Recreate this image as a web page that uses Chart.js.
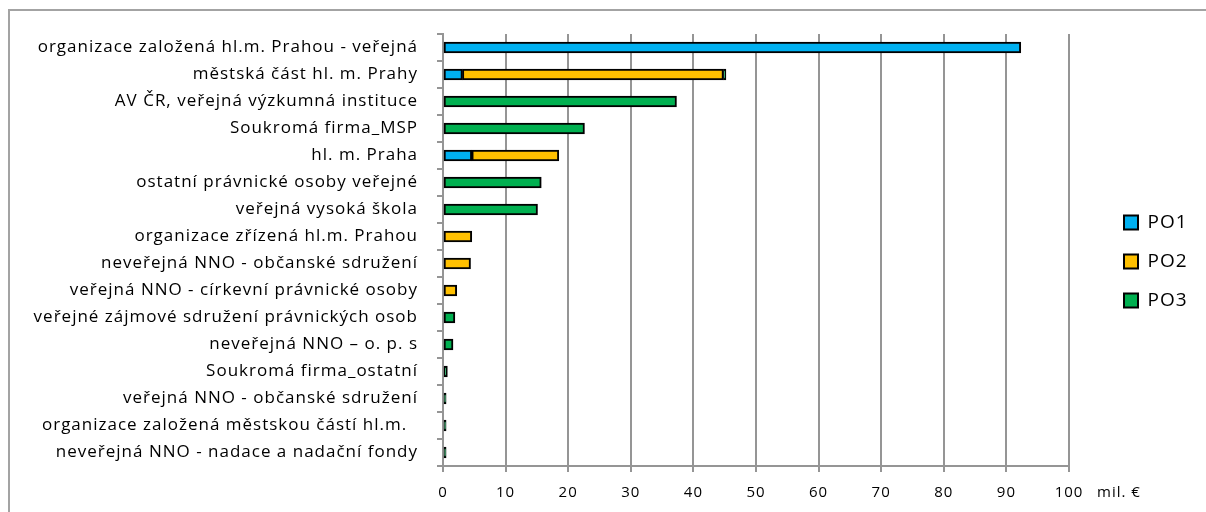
<!DOCTYPE html>
<html>
<head>
<meta charset="utf-8">
<script src="https://cdn.jsdelivr.net/npm/chart.js@4.4.1/dist/chart.umd.min.js"></script>
<style>
  html, body { margin: 0; padding: 0; background: #fff; overflow: hidden; width: 1206px; height: 512px; }
  #frame { position: absolute; left: 8px; top: 9px; width: 1260px; height: 560px; border: 2px solid #a3a3a3; box-sizing: border-box; }
  #wrap { position: absolute; left: 10px; top: 11px; width: 1196px; height: 501px; }
</style>
</head>
<body>
<div id="frame"></div>
<div id="wrap"><canvas id="c" width="1196" height="501"></canvas></div>
<script>
const categories = [
  "organizace založená hl.m. Prahou - veřejná",
  "městská část hl. m. Prahy",
  "AV ČR, veřejná výzkumná instituce",
  "Soukromá firma_MSP",
  "hl. m. Praha",
  "ostatní právnické osoby veřejné",
  "veřejná vysoká škola",
  "organizace zřízená hl.m. Prahou",
  "neveřejná NNO - občanské sdružení",
  "veřejná NNO - církevní právnické osoby",
  "veřejné zájmové sdružení právnických osob",
  "neveřejná NNO – o. p. s",
  "Soukromá firma_ostatní",
  "veřejná NNO - občanské sdružení",
  "organizace založená městskou částí hl.m.  ",
  "neveřejná NNO - nadace a nadační fondy"
];
const seriesNames = ["PO1", "PO2", "PO3"];
const po1 = [92.3, 3.1, null, null, 4.6, null, null, null, null, null, null, null, null, null, null, null];
const po2 = [null, 41.7, null, null, 13.9, null, null, 4.6, 4.4, 2.2, null, null, null, null, null, null];
const po3 = [null, 0.4, 37.3, 22.6, null, 15.7, 15.1, null, null, null, 1.9, 1.6, 0.7, 0.5, 0.5, 0.5];
const xTicks = [0, 10, 20, 30, 40, 50, 60, 70, 80, 90, 100];
const unitLabel = "mil. €";

const colors = ["#00B0F0", "#FFC000", "#00B050"];
const FONT = "'Open Sans', Lato, sans-serif";
const GRID = "#959595";

const legendWidthPlugin = {
  id: 'legendWidth',
  afterInit(chart) {
    const lg = chart.legend;
    if (lg) {
      const fit = lg.fit;
      lg.fit = function () { fit.call(this); this.width = 102; };
    }
  },
  beforeDraw(chart) {
    chart.ctx.letterSpacing = '1px';
  }
};
const unitPlugin = {
  id: 'unitLabel',
  afterDraw(chart) {
    const xs = chart.scales.x;
    const ctx = chart.ctx;
    ctx.save();
    ctx.font = "15px " + FONT;
    ctx.fillStyle = "#000";
    ctx.textAlign = "left";
    ctx.textBaseline = "middle";
    ctx.fillText(unitLabel, xs.right + 28, xs.top + 6 + 12 + 9);
    ctx.restore();
  }
};

const data = {
  labels: categories,
  datasets: [po1, po2, po3].map((vals, i) => ({
    label: seriesNames[i],
    data: vals,
    backgroundColor: colors[i],
    borderColor: "#000",
    borderWidth: 2,
    borderSkipped: false,
    barThickness: 11
  }))
};

new Chart(document.getElementById('c'), {
  type: 'bar',
  data,
  plugins: [legendWidthPlugin, unitPlugin],
  options: {
    indexAxis: 'y',
    responsive: false,
    animation: false,
    layout: { padding: 0 },
    scales: {
      x: {
        stacked: true,
        min: 0, max: 100,
        afterBuildTicks(s) { s.ticks = xTicks.map(v => ({ value: v })); },
        afterFit(s) { s.height = 46; },
        grid: { color: GRID, lineWidth: 2, tickLength: 6, tickColor: GRID },
        border: { color: GRID, width: 2 },
        ticks: { color: "#000", font: { family: FONT, size: 15 }, padding: 12, maxRotation: 0 }
      },
      y: {
        stacked: true,
        afterFit(s) { s.width = 433; s.paddingTop = 0; s.paddingBottom = 0; },
        grid: { offset: true, drawOnChartArea: false, tickLength: 6, color: GRID, lineWidth: 2 },
        border: { color: GRID, width: 2 },
        ticks: { color: "#000", font: { family: FONT, size: 17 }, padding: 19, autoSkip: false }
      },
      gap: {
        type: 'linear',
        axis: 'y',
        position: 'right',
        display: true,
        grid: { display: false, drawTicks: false },
        border: { display: false },
        ticks: { display: false },
        afterFit(s) { s.width = 35; s.paddingTop = 0; s.paddingBottom = 0; }
      }
    },
    plugins: {
      title: { display: true, text: ' ', font: { size: 10, lineHeight: 1.2 }, padding: { top: 11, bottom: 0 } },
      tooltip: { enabled: false },
      legend: {
        position: 'right',
        align: 'center',
        labels: {
          color: "#000",
          font: { family: FONT, size: 19 },
          boxWidth: 14,
          boxHeight: 14,
          padding: 20
        }
      }
    }
  }
});
</script>
</body>
</html>
